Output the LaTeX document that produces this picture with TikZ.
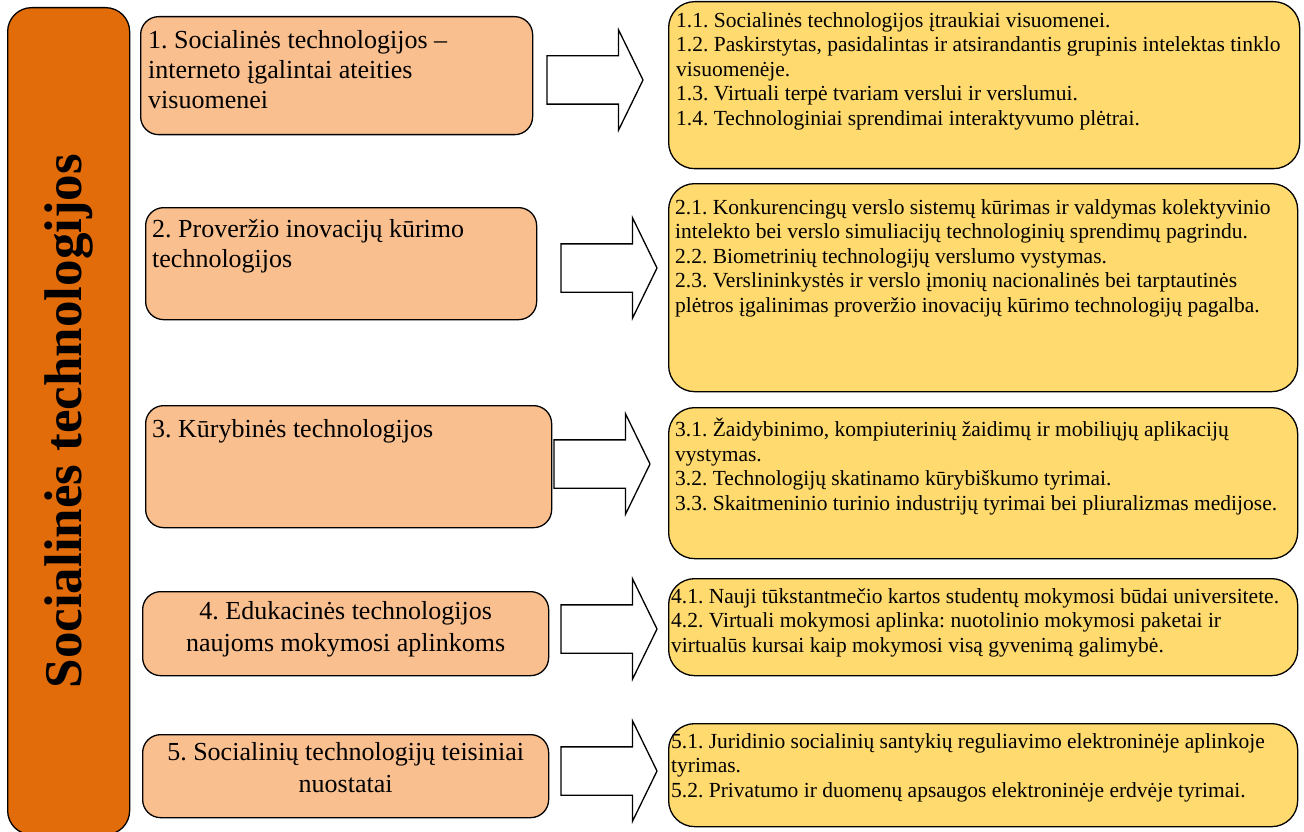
\documentclass[tikz,border=0pt]{standalone}
\usepackage{fontspec}
\setmainfont{Liberation Serif}
\usetikzlibrary{shapes.arrows,positioning}
\frenchspacing
\definecolor{barorange}{RGB}{227,108,10}
\definecolor{boxorange}{RGB}{250,191,143}
\definecolor{boxyellow}{RGB}{255,218,110}
\tikzset{
    bar/.style={ % left vertical band
        rectangle,
        rounded corners=24pt,
        draw=black,
        fill=barorange,
        line width=1.3pt,
        anchor=north west,
        inner sep=0pt
        },
    lbox/.style={ % main topics
        rectangle,
        rounded corners=18pt,
        draw=black,
        fill=boxorange,
        line width=1.3pt,
        anchor=north west,
        inner sep=0pt
        },
    rbox/.style={ % sub topics
        lbox,
        rounded corners=26pt,
        fill=boxyellow
        },
    ltxt/.style={
        anchor=north west,
        align=left,
        inner sep=0pt,
        font=\fontsize{26}{30}\selectfont
        },
    ctxt/.style={ % centred version
        ltxt,
        anchor=north,
        align=center,
        font=\fontsize{26}{32}\selectfont
        },
    rtxt/.style={
        ltxt,
        font=\fontsize{21.5}{24.5}\selectfont
        },
    bigarrow/.style={
        single arrow,
        draw=black,
        fill=white,
        line width=1.3pt,
        single arrow head extend=26pt,
        single arrow tip angle=128,
        single arrow head indent=0pt,
        inner xsep=0pt,
        inner ysep=23.5pt,
        outer sep=0pt,
        minimum height=96pt,
        anchor=tail
        }
}
\begin{document}
\begin{tikzpicture}[x=1pt,y=-1pt]
\useasboundingbox (0,0) rectangle (1304,832);

%%%%% band
\node[bar, minimum width=122pt, minimum height=827pt] (bar) at (7,7) {};
\node[rotate=90, font=\fontsize{53}{60}\selectfont\bfseries] (title) at (bar.center) {Socialinės technologijos};

%%%%% topic 1
\node[lbox, minimum width=392pt, minimum height=118pt] (lb1) at (140,16) {};
\node[ltxt] (lt1) at ([shift={(8pt,-14pt)}]lb1.north west) {1. Socialinės technologijos –\\interneto įgalintai ateities\\visuomenei};
\node[bigarrow] (ar1) at (547,80) {};
\node[rbox, minimum width=631pt, minimum height=167pt] (rb1) at (668,1) {};
\node[rtxt] (rt1) at ([shift={(8pt,-11pt)}]rb1.north west) {1.1. Socialinės technologijos įtraukiai visuomenei.\\1.2. Paskirstytas, pasidalintas ir atsirandantis grupinis intelektas tinklo\\visuomenėje.\\1.3. Virtuali terpė tvariam verslui ir verslumui.\\1.4. Technologiniai sprendimai interaktyvumo plėtrai.};

%%%%% topic 2
\node[lbox, minimum width=391pt, minimum height=112pt] (lb2) at (145,207) {};
\node[ltxt] (lt2) at ([shift={(7pt,-12pt)}]lb2.north west) {2. Proveržio inovacijų kūrimo\\technologijos};
\node[bigarrow] (ar2) at (561,268) {};
\node[rbox, minimum width=629pt, minimum height=208pt] (rb2) at (668,183) {};
\node[rtxt] (rt2) at ([shift={(7pt,-16pt)}]rb2.north west) {2.1. Konkurencingų verslo sistemų kūrimas ir valdymas kolektyvinio\\intelekto bei verslo simuliacijų technologinių sprendimų pagrindu.\\2.2. Biometrinių technologijų verslumo vystymas.\\2.3. Verslininkystės ir verslo įmonių nacionalinės bei tarptautinės\\plėtros įgalinimas proveržio inovacijų kūrimo technologijų pagalba.};

%%%%% topic 3
\node[lbox, minimum width=406pt, minimum height=122pt] (lb3) at (145,405) {};
\node[ltxt] (lt3) at ([shift={(7pt,-14pt)}]lb3.north west) {3. Kūrybinės technologijos};
\node[bigarrow] (ar3) at (554,464) {};
\node[rbox, minimum width=629pt, minimum height=151pt] (rb3) at (668,407) {};
\node[rtxt] (rt3) at ([shift={(7pt,-11pt)}]rb3.north west) {3.1. Žaidybinimo, kompiuterinių žaidimų ir mobiliųjų aplikacijų\\vystymas.\\3.2. Technologijų skatinamo kūrybiškumo tyrimai.\\3.3. Skaitmeninio turinio industrijų tyrimai bei pliuralizmas medijose.};

%%%%% topic 4
\node[lbox, minimum width=406pt, minimum height=84pt] (lb4) at (142,591) {};
\node[ctxt] (lt4) at ([yshift=-10pt]lb4.north) {4. Edukacinės technologijos\\naujoms mokymosi aplinkoms};
\node[bigarrow] (ar4) at (561,629) {};
\node[rbox, minimum width=629pt, minimum height=97pt] (rb4) at (668,578) {};
\node[rtxt] (rt4) at ([shift={(3pt,-10pt)}]rb4.north west) {4.1. Nauji tūkstantmečio kartos studentų mokymosi būdai universitete.\\4.2. Virtuali mokymosi aplinka: nuotolinio mokymosi paketai ir\\virtualūs kursai kaip mokymosi visą gyvenimą galimybė.};

%%%%% topic 5
\node[lbox, minimum width=406pt, minimum height=83pt] (lb5) at (142,734) {};
\node[ctxt] (lt5) at ([yshift=-8pt]lb5.north) {5. Socialinių technologijų teisiniai\\nuostatai};
\node[bigarrow] (ar5) at (561,771) {};
\node[rbox, minimum width=629pt, minimum height=103pt] (rb5) at (668,723) {};
\node[rtxt] (rt5) at ([shift={(3pt,-10pt)}]rb5.north west) {5.1. Juridinio socialinių santykių reguliavimo elektroninėje aplinkoje\\tyrimas.\\5.2. Privatumo ir duomenų apsaugos elektroninėje erdvėje tyrimai.};

\end{tikzpicture}
\end{document}
